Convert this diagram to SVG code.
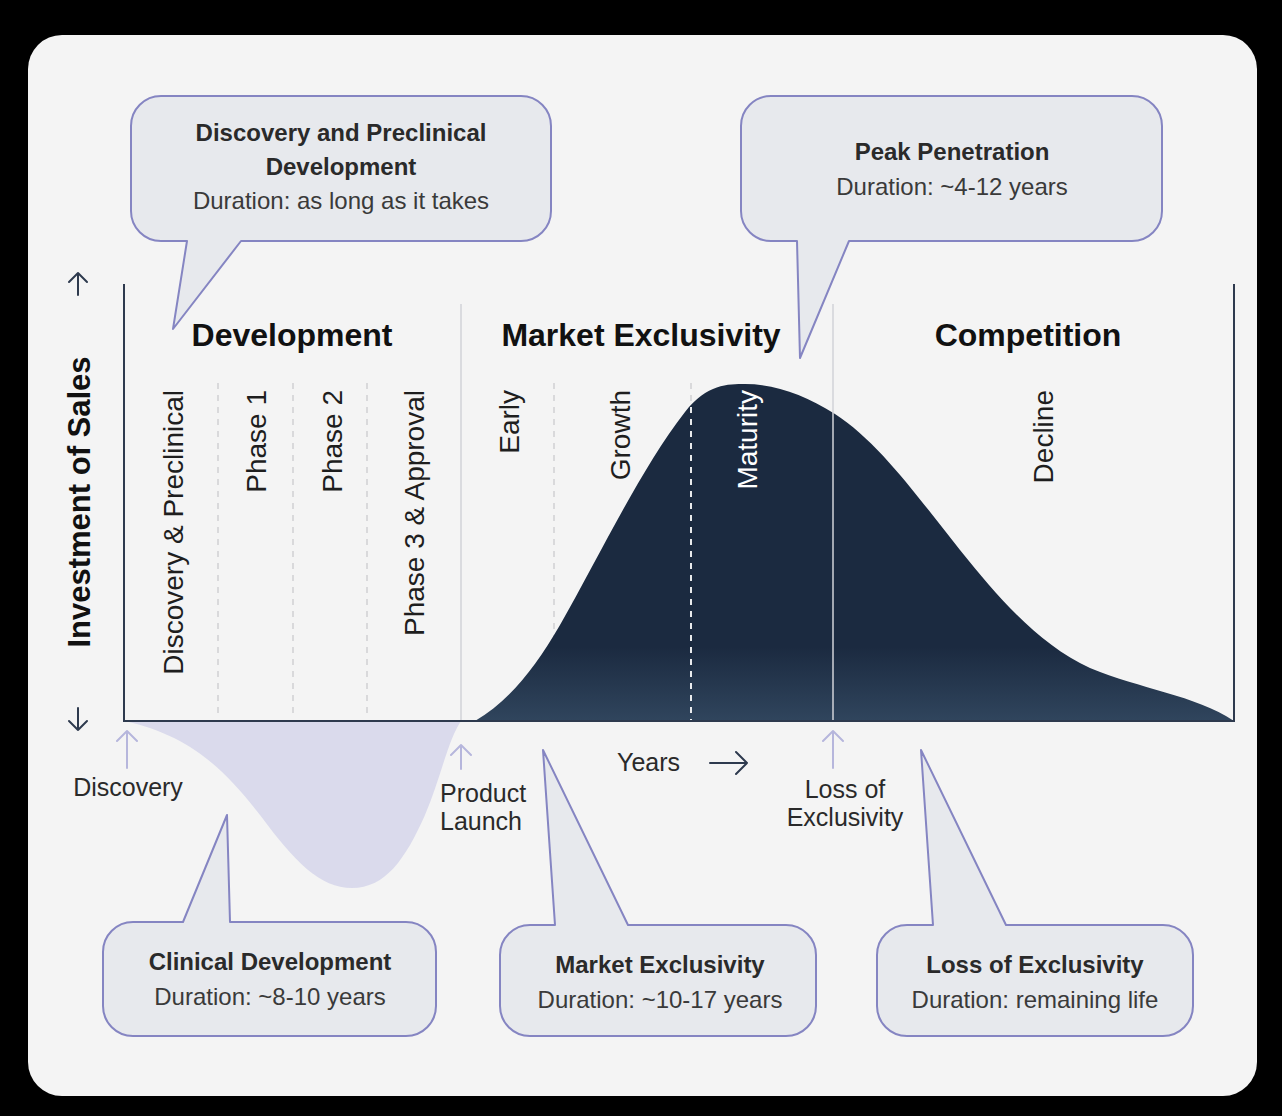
<svg xmlns="http://www.w3.org/2000/svg" width="1282" height="1116" viewBox="0 0 1282 1116">
<style>
.txt{font-family:"Liberation Sans",Arial,sans-serif;}
.head{font-family:"Liberation Sans",Arial,sans-serif;font-weight:700;font-size:32px;fill:#111;text-anchor:middle;}
.phase{font-family:"Liberation Sans",Arial,sans-serif;font-size:28px;fill:#1e1e1e;text-anchor:end;}
.ctitle{font-family:"Liberation Sans",Arial,sans-serif;font-weight:700;font-size:24px;fill:#2a2a2a;text-anchor:middle;}
.cdur{font-family:"Liberation Sans",Arial,sans-serif;font-size:24px;fill:#3a3a3a;text-anchor:middle;}
.lbl{font-family:"Liberation Sans",Arial,sans-serif;font-size:25px;fill:#2a2a2a;}
.callout{fill:#e7e9ed;stroke:#8585c2;stroke-width:2;stroke-linejoin:round;}
.axis{stroke:#2e3a4e;stroke-width:2;fill:none;}
.sect{stroke:#d2d3d8;stroke-width:1.5;fill:none;}
.dash{stroke:#cfcfd2;stroke-width:1.5;stroke-dasharray:6 6;fill:none;}
.larrow{stroke:#b6b6dc;stroke-width:2;fill:none;stroke-linecap:round;stroke-linejoin:round;}
.narrow{stroke:#2e3a4e;stroke-width:2;fill:none;stroke-linecap:round;stroke-linejoin:round;}
</style>
<defs>
<linearGradient id="navyGrad" gradientUnits="userSpaceOnUse" x1="0" y1="384" x2="0" y2="721">
<stop offset="0" stop-color="#1b2a40"/>
<stop offset="0.78" stop-color="#1b2a40"/>
<stop offset="1" stop-color="#30455d"/>
</linearGradient>
<clipPath id="curveClip">
<path d="M475,721 C510,700 535,668 560,625 C600,555 640,470 685,412 C707,384 728,384 745,384 C775,384 805,395 835,414 C880,443 920,500 960,550 C1000,600 1040,645 1090,668 C1140,689 1195,695 1234,721 Z"/>
</clipPath>
</defs>

<rect x="0" y="0" width="1282" height="1116" fill="#000"/>
<rect x="28" y="35" width="1229" height="1061" rx="34" ry="34" fill="#f4f4f4"/>

<g id="gridlines">
<line class="dash" x1="218" y1="383" x2="218" y2="715"/>
<line class="dash" x1="293" y1="383" x2="293" y2="715"/>
<line class="dash" x1="367" y1="383" x2="367" y2="715"/>
<line class="dash" x1="554" y1="383" x2="554" y2="720"/>
<line class="dash" x1="691" y1="383" x2="691" y2="720"/>
</g>

<g id="investment-curve">
<path d="M124,721 C190,735 225,770 260,815 C295,862 320,888 352,888 C385,888 405,860 425,815 C440,780 448,740 461,721 Z" fill="#dadaec"/>
</g>

<g id="sales-curve">
<path d="M475,721 C510,700 535,668 560,625 C600,555 640,470 685,412 C707,384 728,384 745,384 C775,384 805,395 835,414 C880,443 920,500 960,550 C1000,600 1040,645 1090,668 C1140,689 1195,695 1234,721 Z" fill="url(#navyGrad)"/>
<line x1="691" y1="383" x2="691" y2="720" stroke="#ffffff" stroke-width="1.8" stroke-dasharray="6 6" clip-path="url(#curveClip)"/>
</g>

<g id="sections">
<line class="sect" x1="461" y1="304" x2="461" y2="721"/>
<line class="sect" x1="833" y1="304" x2="833" y2="721"/>
</g>

<g id="axes">
<path class="axis" d="M124,284 V721 H1234 V284"/>
<path class="narrow" d="M78,273 V295 M69,282 L78,273 L87,282"/>
<path class="narrow" d="M78,708 V730 M69,721 L78,730 L87,721"/>
<text class="txt" transform="translate(90,502) rotate(-90)" text-anchor="middle" font-size="31" font-weight="700" fill="#111">Investment of Sales</text>
</g>

<g id="section-headings">
<text class="head" x="292" y="346">Development</text>
<text class="head" x="641" y="346">Market Exclusivity</text>
<text class="head" x="1028" y="346">Competition</text>
</g>

<g id="stage-labels">
<text class="phase" transform="translate(183,390) rotate(-90)">Discovery &amp; Preclinical</text>
<text class="phase" transform="translate(266,390) rotate(-90)">Phase 1</text>
<text class="phase" transform="translate(342,390) rotate(-90)">Phase 2</text>
<text class="phase" transform="translate(424,390) rotate(-90)">Phase 3 &amp; Approval</text>
<text class="phase" transform="translate(519,390) rotate(-90)">Early</text>
<text class="phase" transform="translate(630,390) rotate(-90)">Growth</text>
<text class="phase" transform="translate(757,390) rotate(-90)" style="fill:#ffffff">Maturity</text>
<text class="phase" transform="translate(1053,390) rotate(-90)">Decline</text>
</g>

<g id="milestones">
<path class="larrow" d="M127,768 V731 M117,741 L127,731 L137,741"/>
<text class="lbl" x="128" y="796" text-anchor="middle">Discovery</text>
<path class="larrow" d="M461,769 V745 M451,755 L461,745 L471,755"/>
<text class="lbl" x="440" y="802">Product</text>
<text class="lbl" x="440" y="830">Launch</text>
<path class="larrow" d="M833,768 V731 M823,741 L833,731 L843,741"/>
<text class="lbl" x="845" y="798" text-anchor="middle">Loss of</text>
<text class="lbl" x="845" y="826" text-anchor="middle">Exclusivity</text>
<text class="lbl" x="617" y="771">Years</text>
<path class="narrow" d="M710,763 H747 M736,752 L747,763 L736,774"/>
</g>

<g id="callout-discovery">
<path class="callout" d="M161,96 H521 A30,30 0 0 1 551,126 V211 A30,30 0 0 1 521,241 H241 L173,329 L187,241 H161 A30,30 0 0 1 131,211 V126 A30,30 0 0 1 161,96 Z"/>
<text class="ctitle" x="341" y="141">Discovery and Preclinical</text>
<text class="ctitle" x="341" y="175">Development</text>
<text class="cdur" x="341" y="209">Duration: as long as it takes</text>
</g>

<g id="callout-peak">
<path class="callout" d="M771,96 H1132 A30,30 0 0 1 1162,126 V211 A30,30 0 0 1 1132,241 H849 L800,358 L797,241 H771 A30,30 0 0 1 741,211 V126 A30,30 0 0 1 771,96 Z"/>
<text class="ctitle" x="952" y="160">Peak Penetration</text>
<text class="cdur" x="952" y="195">Duration: ~4-12 years</text>
</g>

<g id="callout-clinical">
<path class="callout" d="M133,922 H183 L227,815 L230,922 H406 A30,30 0 0 1 436,952 V1006 A30,30 0 0 1 406,1036 H133 A30,30 0 0 1 103,1006 V952 A30,30 0 0 1 133,922 Z"/>
<text class="ctitle" x="270" y="970">Clinical Development</text>
<text class="cdur" x="270" y="1005">Duration: ~8-10 years</text>
</g>

<g id="callout-market">
<path class="callout" d="M530,925 H555 L543,750 L628,925 H786 A30,30 0 0 1 816,955 V1006 A30,30 0 0 1 786,1036 H530 A30,30 0 0 1 500,1006 V955 A30,30 0 0 1 530,925 Z"/>
<text class="ctitle" x="660" y="973">Market Exclusivity</text>
<text class="cdur" x="660" y="1008">Duration: ~10-17 years</text>
</g>

<g id="callout-loss">
<path class="callout" d="M907,925 H933 L921,750 L1006,925 H1163 A30,30 0 0 1 1193,955 V1006 A30,30 0 0 1 1163,1036 H907 A30,30 0 0 1 877,1006 V955 A30,30 0 0 1 907,925 Z"/>
<text class="ctitle" x="1035" y="973">Loss of Exclusivity</text>
<text class="cdur" x="1035" y="1008">Duration: remaining life</text>
</g>
</svg>
